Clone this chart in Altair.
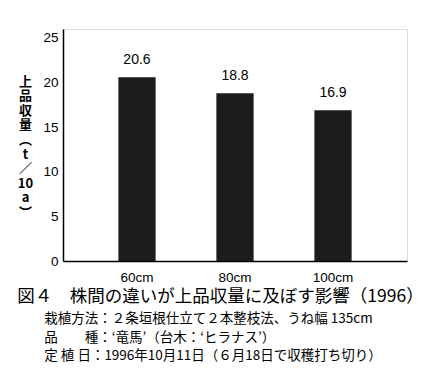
import altair as alt
import pandas as pd

categories = ["60cm", "80cm", "100cm"]
values = [20.6, 18.8, 16.9]
y_title_chars = ["上", "品", "収", "量", "︵", "t", "／", "10", "a", "︶"]
title_text = "図４　株間の違いが上品収量に及ぼす影響（1996）"
subtitle_lines = [
    "\u200b\u3000\u3000栽植方法：２条垣根仕立て２本整枝法、うね幅 135cm",
    "\u200b\u3000\u3000品　　種：‘竜馬’（台木：‘ヒラナス’）",
    "\u200b\u3000\u3000定 植 日：1996年10月11日（６月18日で収穫打ち切り）",
]

df = pd.DataFrame({"cat": categories, "val": values})

x = alt.X("cat:N", sort=categories,
          scale=alt.Scale(paddingInner=0.62, paddingOuter=0.565),
          axis=alt.Axis(title=None, labelAngle=0, ticks=False, domain=True,
                        domainColor="black", domainWidth=1.5,
                        labelFont="Liberation Sans", labelFontSize=13.5,
                        labelColor="black", labelPadding=9))
y = alt.Y("val:Q", scale=alt.Scale(domain=[0, 25]),
          axis=alt.Axis(values=[0, 5, 10, 15, 20, 25], grid=False, ticks=False,
                        domainColor="black", domainWidth=1.5,
                        labelFont="Liberation Sans", labelFontSize=13.5,
                        labelColor="black", labelPadding=5,
                        title=y_title_chars, titleAngle=0, titleAlign="center",
                        titleBaseline="top", titleX=-38, titleY=46,
                        titleFont="Noto Sans CJK JP", titleFontSize=13,
                        titleFontWeight="bold", titleLineHeight=14.6,
                        titleColor="black"))

bars = alt.Chart(df).mark_bar(color="#1c1c1c").encode(x=x, y=y)
labels = alt.Chart(df).mark_text(baseline="bottom", dy=-10, fontSize=14,
                                 font="Liberation Sans", color="black").encode(
    x=alt.X("cat:N", sort=categories), y="val:Q", text=alt.Text("val:Q", format=".1f"))

chart = (bars + labels).properties(
    width=344, height=232,
    autosize=alt.AutoSizeParams(type="none"),
    padding={"left": 55, "top": 21, "right": 22, "bottom": 117},
    title=alt.TitleParams(
        text=title_text, subtitle=subtitle_lines, orient="bottom", anchor="start",
        frame="bounds", offset=4, font="Noto Sans CJK JP", fontSize=17.5,
        fontWeight="normal", color="black",
        subtitleFont="Noto Sans CJK JP", subtitleFontSize=13.5,
        subtitleColor="black", subtitleLineHeight=18.5, subtitlePadding=7),
).configure_view(stroke="black", strokeWidth=1).configure(background="white")

chart.save("out.html", embed_options={"renderer": "svg", "actions": False})
